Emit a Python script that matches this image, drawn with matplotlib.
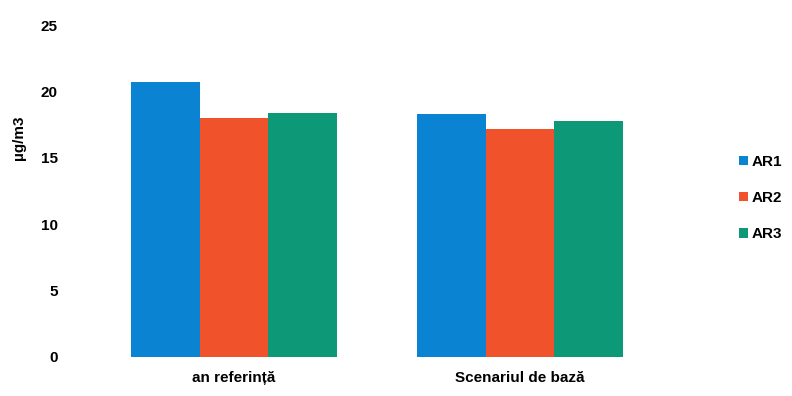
import matplotlib
matplotlib.use("Agg")
import matplotlib.pyplot as plt
import numpy as np
from matplotlib import font_manager

names = {f.name for f in font_manager.fontManager.ttflist}
fam = ["Liberation Sans Narrow"] if "Liberation Sans Narrow" in names else ["Liberation Sans"]
plt.rcParams['font.family'] = fam + ["DejaVu Sans"]

categories = ["an referință", "Scenariul de bază"]
series = ["AR1", "AR2", "AR3"]
ar1 = [20.7, 18.3]
ar2 = [18.0, 17.2]
ar3 = [18.4, 17.8]
colors = ["#0a84d2", "#f0522c", "#0d9877"]
yticks = [0, 5, 10, 15, 20, 25]

fig = plt.figure(figsize=(7.92, 3.96), dpi=100)
ax = fig.add_axes([0.115, 0.0985, 0.722, 0.838])
x = np.arange(len(categories))
w = 0.24
for i, (vals, c, lab) in enumerate(zip([ar1, ar2, ar3], colors, series)):
    ax.bar(x + (i - 1) * w, vals, w, color=c, label=lab, edgecolor="none")

ax.set_xlim(-0.5, 1.5)
ax.set_ylim(0, 25)
ax.set_yticks(yticks)
ax.set_xticks(x)
ax.set_xticklabels(categories, fontsize=11, fontweight="bold")
for s in ax.spines.values():
    s.set_visible(False)
ax.tick_params(axis="both", length=0, labelsize=11)
for t in ax.get_yticklabels():
    t.set_fontweight("bold")
ax.tick_params(axis="y", pad=24)
ax.tick_params(axis="x", pad=10)
ax.set_ylabel("µg/m3", fontsize=11, fontweight="bold")
ax.yaxis.set_label_coords(-0.113, 0.66)

leg = fig.legend(loc="center left", bbox_to_anchor=(0.916, 0.5), frameon=False,
                 handlelength=0.6, handleheight=0.6, handletextpad=0.2,
                 labelspacing=1.45, prop={"weight": "bold", "size": 11})
fig.savefig("out.png", dpi=100)
